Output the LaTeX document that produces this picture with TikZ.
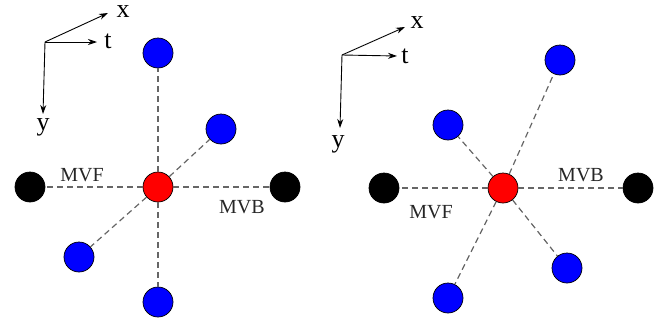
\documentclass[tikz,border=0pt]{standalone}
\usepackage{fontspec}
\setmainfont{Liberation Serif}
\usetikzlibrary{arrows.meta}
\begin{document}
\begin{tikzpicture}[x=1pt,y=-1pt,
  dot/.style={circle,draw=black,line width=0.7pt,minimum size=30pt,inner sep=0pt},
  bluedot/.style={dot,fill=blue},
  reddot/.style={dot,fill=red},
  blackdot/.style={dot,fill=black},
  link/.style={draw=black!60,line width=1.2pt,dash pattern=on 6pt off 4pt},
  axis/.style={-{Stealth[length=9pt,width=6pt]},line width=0.9pt},
  axlabel/.style={font=\fontsize{26}{28}\selectfont,inner sep=0pt,anchor=base},
  mvlabel/.style={font=\fontsize{20}{22}\selectfont,inner sep=0pt,anchor=base,text=black!85}]
\useasboundingbox (0,0) rectangle (670,327);
% ---- left panel ----
\coordinate (LO) at (45,42);
\coordinate (LX) at (108,13);
\coordinate (LT) at (97,42);
\coordinate (LY) at (43,114);
\draw[axis] (LO) -- (LX);
\draw[axis] (LO) -- (LT);
\draw[axis] (LO) -- (LY);
\node[axlabel] (lxl) at (123,17) {x};
\node[axlabel] (ltl) at (108,48) {t};
\node[axlabel] (lyl) at (43,130) {y};
\node[reddot] (Lc) at (158,187) {};
\node[bluedot] (Lb1) at (158,53) {};
\node[bluedot] (Lb2) at (221,129) {};
\node[bluedot] (Lb3) at (79,257) {};
\node[bluedot] (Lb4) at (158,302) {};
\node[blackdot] (Lk1) at (30,187) {};
\node[blackdot] (Lk2) at (285,187) {};
\foreach \n in {Lb1,Lb2,Lb3,Lb4,Lk1,Lk2} \draw[link] (Lc) -- (\n);
\node[mvlabel] (lmvf) at (82,181) {MVF};
\node[mvlabel] (lmvb) at (242,213) {MVB};
% ---- right panel ----
\coordinate (RO) at (342,55);
\coordinate (RX) at (405,27);
\coordinate (RT) at (397,56);
\coordinate (RY) at (340,128);
\draw[axis] (RO) -- (RX);
\draw[axis] (RO) -- (RT);
\draw[axis] (RO) -- (RY);
\node[axlabel] (rxl) at (417,28) {x};
\node[axlabel] (rtl) at (405,63) {t};
\node[axlabel] (ryl) at (338,147) {y};
\node[reddot] (Rc) at (503,188) {};
\node[bluedot] (Rb1) at (560,60) {};
\node[bluedot] (Rb2) at (448,125) {};
\node[bluedot] (Rb3) at (567,268) {};
\node[bluedot] (Rb4) at (448,298) {};
\node[blackdot] (Rk1) at (384,188) {};
\node[blackdot] (Rk2) at (638,188) {};
\foreach \n in {Rb1,Rb2,Rb3,Rb4,Rk1,Rk2} \draw[link] (Rc) -- (\n);
\node[mvlabel] (rmvb) at (581,181) {MVB};
\node[mvlabel] (rmvf) at (431,218) {MVF};
\end{tikzpicture}
\end{document}
